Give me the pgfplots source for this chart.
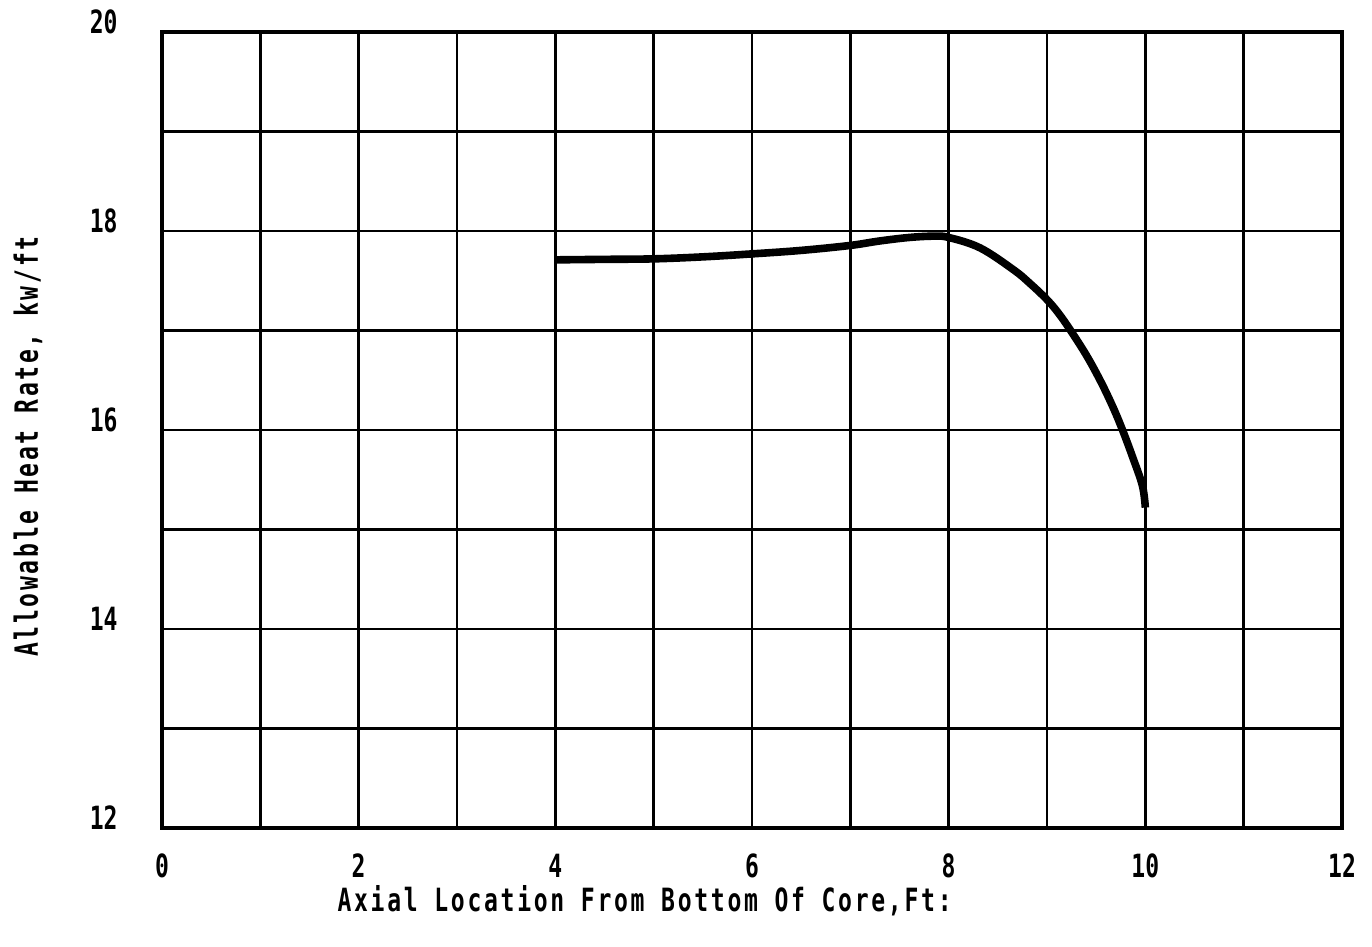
\documentclass[border=0pt]{standalone}
\usepackage{fontspec}
\usepackage{pgfplots}
\pgfplotsset{compat=1.18}
\newfontfamily\lab{DejaVu Sans Mono Bold}[FakeStretch=0.72]
\newfontfamily\labsp{DejaVu Sans Mono Bold}[FakeStretch=0.72, LetterSpace=8.5]
\begin{document}
\begin{tikzpicture}
\begin{axis}[
  at={(0,0)}, anchor=south west,
  scale only axis, width=590pt, height=398pt,
  xmin=0, xmax=12, ymin=12, ymax=20,
  xtick={0,2,...,12}, ytick={12,14,...,20},
  minor xtick={1,3,...,11}, minor ytick={13,15,17,19},
  grid=both,
  major grid style={black, line width=1.2pt},
  minor grid style={black, line width=1.2pt},
  major tick length=0pt, minor tick length=0pt,
  axis line style={black, line width=1.8pt},
  /pgf/number format/assume math mode=true,
  tick label style={font=\lab\fontsize{16}{19}\selectfont, inner sep=0pt},
  xticklabel style={anchor=center, yshift=-19pt},
  yticklabel style={anchor=east, xshift=-22pt, yshift=5pt},
  label style={font=\labsp\fontsize{16}{19}\selectfont},
  xlabel={Axial Location From Bottom Of Core,Ft:},
  xlabel style={at={(axis description cs:0.409,-0.0915)}, anchor=center},
  ylabel={Allowable Heat Rate, kw/ft},
  ylabel style={at={(axis description cs:-0.1136,0.479)}, anchor=center},
]
\addplot[black, line width=3.8pt, smooth, tension=0.6] coordinates {
  (4,17.71) (4.5,17.715) (5,17.72) (5.5,17.74) (6,17.77) (6.5,17.805)
  (7,17.855) (7.3,17.9) (7.6,17.935) (7.85,17.948) (8,17.935) (8.32,17.83)
  (8.66,17.61) (8.83,17.47) (9,17.31) (9.12,17.17) (9.24,17.00) (9.4,16.752)
  (9.54,16.50) (9.66,16.254) (9.76,16.02) (9.87,15.73) (9.97,15.44) (10,15.22)
};
\end{axis}
\pgfresetboundingbox
\path (-81pt,-59.5pt) rectangle (605pt,414pt);
\end{tikzpicture}
\end{document}
